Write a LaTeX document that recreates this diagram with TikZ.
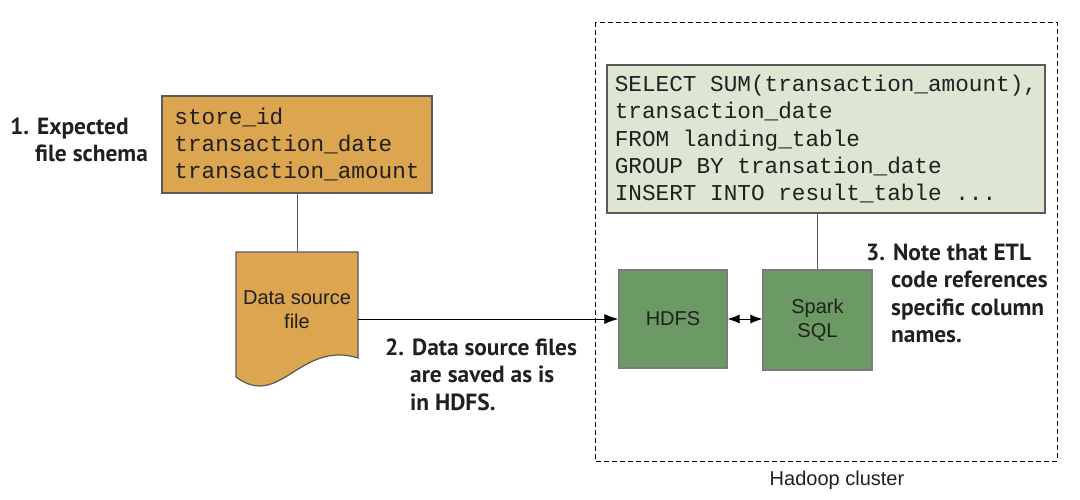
\documentclass[tikz,border=0pt]{standalone}
\usepackage{fontspec}
\setsansfont{Liberation Sans}
\setmonofont{Liberation Mono}
\newfontfamily\lblfont{PT Sans}
\usetikzlibrary{arrows.meta}
\definecolor{txt}{HTML}{231F20}
\definecolor{orangefill}{HTML}{DCA54F}
\definecolor{lightgreen}{HTML}{DCE6D2}
\definecolor{midgreen}{HTML}{6B9A65}
\definecolor{boxline}{HTML}{5A5A5A}
\begin{document}
\begin{tikzpicture}[x=1pt,y=-1pt,
  mono/.style={font=\ttfamily\fontsize{22.7}{27.3}\selectfont, text=txt, align=left},
  sans/.style={font=\sffamily\fontsize{20}{24}\selectfont, text=txt, align=center},
  lbl/.style={font=\lblfont\bfseries\fontsize{23.4}{27.5}\selectfont, text=txt, anchor=base west, inner sep=0pt},
  orangebox/.style={draw=boxline, fill=orangefill, line width=1.2pt},
  sqlbox/.style={draw=boxline, fill=lightgreen, line width=1.2pt},
  greenbox/.style={draw=boxline!80, fill=midgreen, line width=1.2pt, sans},
  conn/.style={draw=boxline, line width=1pt},
  arr/.style={draw=black, line width=1pt, -{Latex[length=14pt,width=10pt]}},
  darr/.style={draw=black, line width=1pt, {Latex[length=12pt,width=9pt]}-{Latex[length=12pt,width=9pt]}},
  cluster/.style={draw=black, line width=1pt, dash pattern=on 5pt off 3pt}
]
\useasboundingbox (0,0) rectangle (1080,499);

% Hadoop cluster
\draw[cluster] (595,22) rectangle (1057,461);
\node[sans, anchor=base] (hadoop) at (837,485) {Hadoop cluster};

% schema box
\node[orangebox, mono, minimum width=270pt, minimum height=97pt, inner sep=0pt] (schema) at (297,144.5)
  {store\_id\\transaction\_date\\transaction\_amount};

% document shape
\coordinate (docTop) at (297,252);
\draw[orangebox] (236,252) -- (358,252) -- (358,358)
  .. controls (300,340) and (280,410) .. (236,377) -- cycle;
\node[sans, minimum width=122pt, inner sep=0pt] (doc) at (297,310) {Data source\\file};

% SQL box
\node[sqlbox, mono, minimum width=438pt, minimum height=148pt, inner sep=0pt] (sql) at (826,139)
  {SELECT SUM(transaction\_amount),\\transaction\_date\\FROM landing\_table\\GROUP BY transation\_date\\INSERT INTO result\_table ...};

% HDFS and Spark
\node[greenbox, minimum width=108pt, minimum height=98pt, inner sep=0pt] (hdfs) at (673,319) {HDFS};
\node[greenbox, minimum width=109pt, minimum height=100pt, inner sep=0pt] (spark) at (817.5,320) {Spark\\SQL};

% connectors
\draw[conn] (schema.south) -- (docTop);
\draw[arr] (doc.east |- hdfs.west) -- (hdfs.west);
\draw[darr] (hdfs.east) -- (spark.west |- hdfs.east);
\draw[conn] (sql.south -| spark.north) -- (spark.north);

% labels
\node[lbl] (l1) at (10,134) {\begin{tabular}[t]{@{}l@{}}1. Expected\\\hphantom{1.\ }file schema\end{tabular}};
\node[lbl] (l2) at (385,355) {\begin{tabular}[t]{@{}l@{}}2. Data source files\\\hphantom{2.\ }are saved as is\\\hphantom{2.\ }in HDFS.\end{tabular}};
\node[lbl] (l3) at (866,260) {\begin{tabular}[t]{@{}l@{}}3. Note that ETL\\\hphantom{3.\ }code references\\\hphantom{3.\ }specific column\\\hphantom{3.\ }names.\end{tabular}};
\end{tikzpicture}
\end{document}
